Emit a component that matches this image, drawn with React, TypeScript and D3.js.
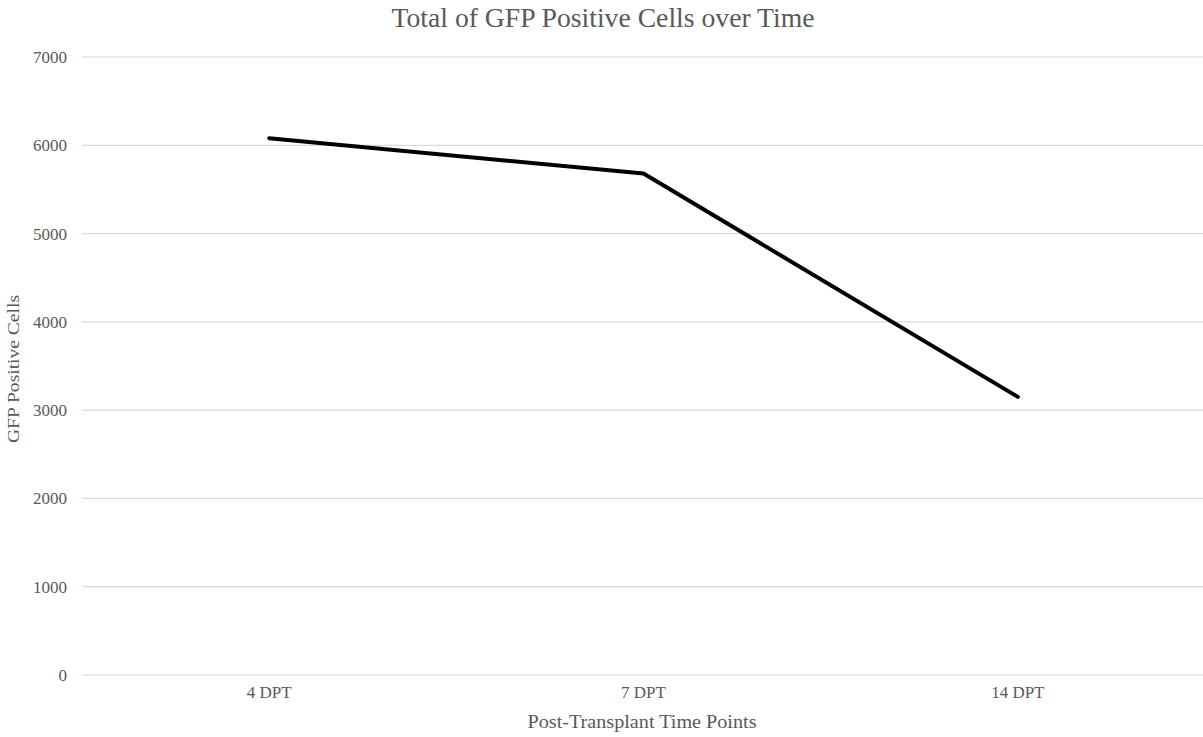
import React from "react";
import * as d3 from "d3";

const categories = ["4 DPT", "7 DPT", "14 DPT"];
const values = [6080, 5680, 3150];
const yTicks = [0, 1000, 2000, 3000, 4000, 5000, 6000, 7000];

const W = 1203;
const H = 737;
const left = 82;
const right = 1203;
const top = 57;
const bottom = 675;

export default function App() {
  const x = d3.scaleBand().domain(categories).range([left, right + 2]);
  const y = d3.scaleLinear().domain([0, 7000]).range([bottom, top]);
  const cx = (c: string) => (x(c) as number) + x.bandwidth() / 2;
  const line = d3
    .line<number>()
    .x((_, i) => cx(categories[i]))
    .y((d) => y(d));
  const font = "'Liberation Serif', 'Times New Roman', serif";
  return (
    <svg
      width={W}
      height={H}
      style={{ position: "absolute", left: 0, top: 0, background: "#fff" }}
      fontFamily={font}
    >
      <text x={603} y={27} textAnchor="middle" fontSize={27} fill="#595959" textLength={423} lengthAdjust="spacingAndGlyphs">
        Total of GFP Positive Cells over Time
      </text>
      {yTicks.map((t) => (
        <g key={t}>
          <line x1={left} x2={right} y1={y(t)} y2={y(t)} stroke="#d9d9d9" strokeWidth={1.2} />
          <text x={67} y={y(t)} dy="0.35em" textAnchor="end" fontSize={17} fill="#595959">
            {t}
          </text>
        </g>
      ))}
      {categories.map((c) => (
        <text key={c} x={cx(c)} y={698} textAnchor="middle" fontSize={17} fill="#595959">
          {c}
        </text>
      ))}
      <path d={line(values) || ""} fill="none" stroke="#000" strokeWidth={4} strokeLinejoin="round" strokeLinecap="round" />
      <text x={642} y={728} textAnchor="middle" fontSize={18} fill="#595959" textLength={229} lengthAdjust="spacingAndGlyphs">
        Post-Transplant Time Points
      </text>
      <text
        transform={`translate(19, 369) rotate(-90)`}
        textAnchor="middle"
        fontSize={17}
        fill="#595959"
        textLength={148}
        lengthAdjust="spacingAndGlyphs"
      >
        GFP  Positive Cells
      </text>
    </svg>
  );
}
